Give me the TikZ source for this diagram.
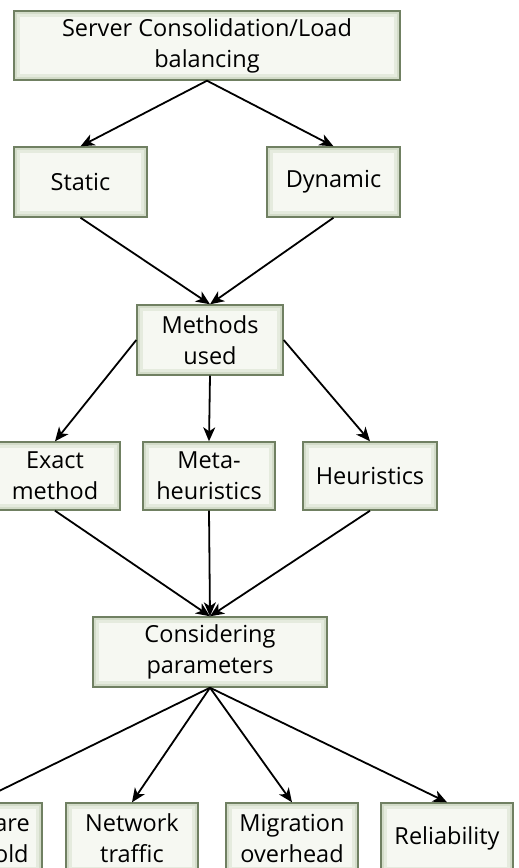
\documentclass[tikz,border=0pt]{standalone}
\usepackage{fontspec}
\setmainfont{Open Sans}
\usetikzlibrary{arrows.meta}
\definecolor{boxedge}{RGB}{112,128,98}
\definecolor{boxfill}{RGB}{246,248,242}
\definecolor{boxglow}{RGB}{200,211,187}
\tikzset{
  box/.style={draw=boxedge, line width=1.4pt, fill=boxfill, inner sep=0pt,
    align=center, minimum width=132pt, minimum height=70pt,
    font=\fontsize{23.5}{31}\selectfont,
    path picture={
      \draw[boxglow, line width=12pt, opacity=0.35] (path picture bounding box.south west) rectangle (path picture bounding box.north east);
      \draw[boxglow, line width=6pt, opacity=0.6] (path picture bounding box.south west) rectangle (path picture bounding box.north east);
    }},
  conn/.style={line width=1.8pt, -{Stealth[length=14pt,width=12pt,inset=4pt]}}
}
\begin{document}
\begin{tikzpicture}[x=1pt,y=-1pt]
\useasboundingbox (0,0) rectangle (519,868);
\clip (0,0) rectangle (519,868);
\node[box, minimum width=386pt, minimum height=69pt] (top) at (207,45.5) {Server Consolidation/Load\\balancing};
\node[box, minimum width=133pt] (static) at (80.5,182) {Static};
\node[box, minimum width=133pt] (dynamic) at (333.5,182) {Dynamic};
\node[box, minimum width=146pt] (meth) at (210,340) {Methods\\used};
\node[box, minimum width=130pt, minimum height=68pt] (exact) at (55,476) {Exact\\method};
\node[box, minimum height=68pt] (meta) at (209,476) {Meta-\\heuristics};
\node[box, minimum width=134pt, minimum height=68pt] (heur) at (370,476) {Heuristics};
\node[box, minimum width=234pt] (cons) at (210,652) {Considering\\parameters};
\node[box] (hw) at (-24,838) {Hardware\\threshold};
\node[box] (net) at (132,838) {Network\\traffic};
\node[box] (mig) at (292,838) {Migration\\overhead};
\node[box] (rel) at (447,838) {Reliability};
\draw[conn] (top.south) -- (static.north);
\draw[conn] (top.south) -- (dynamic.north);
\draw[conn] (static.south) -- (meth.north);
\draw[conn] (dynamic.south) -- (meth.north);
\draw[conn] (meth.west) -- (exact.north);
\draw[conn] (meth.south) -- (meta.north);
\draw[conn] (meth.east) -- (heur.north);
\draw[conn] (exact.south) -- (cons.north);
\draw[conn] (meta.south) -- (cons.north);
\draw[conn] (heur.south) -- (cons.north);
\draw[conn] (cons.south) -- (hw.north);
\draw[conn] (cons.south) -- (net.north);
\draw[conn] (cons.south) -- (mig.north);
\draw[conn] (cons.south) -- (rel.north);
\end{tikzpicture}
\end{document}
